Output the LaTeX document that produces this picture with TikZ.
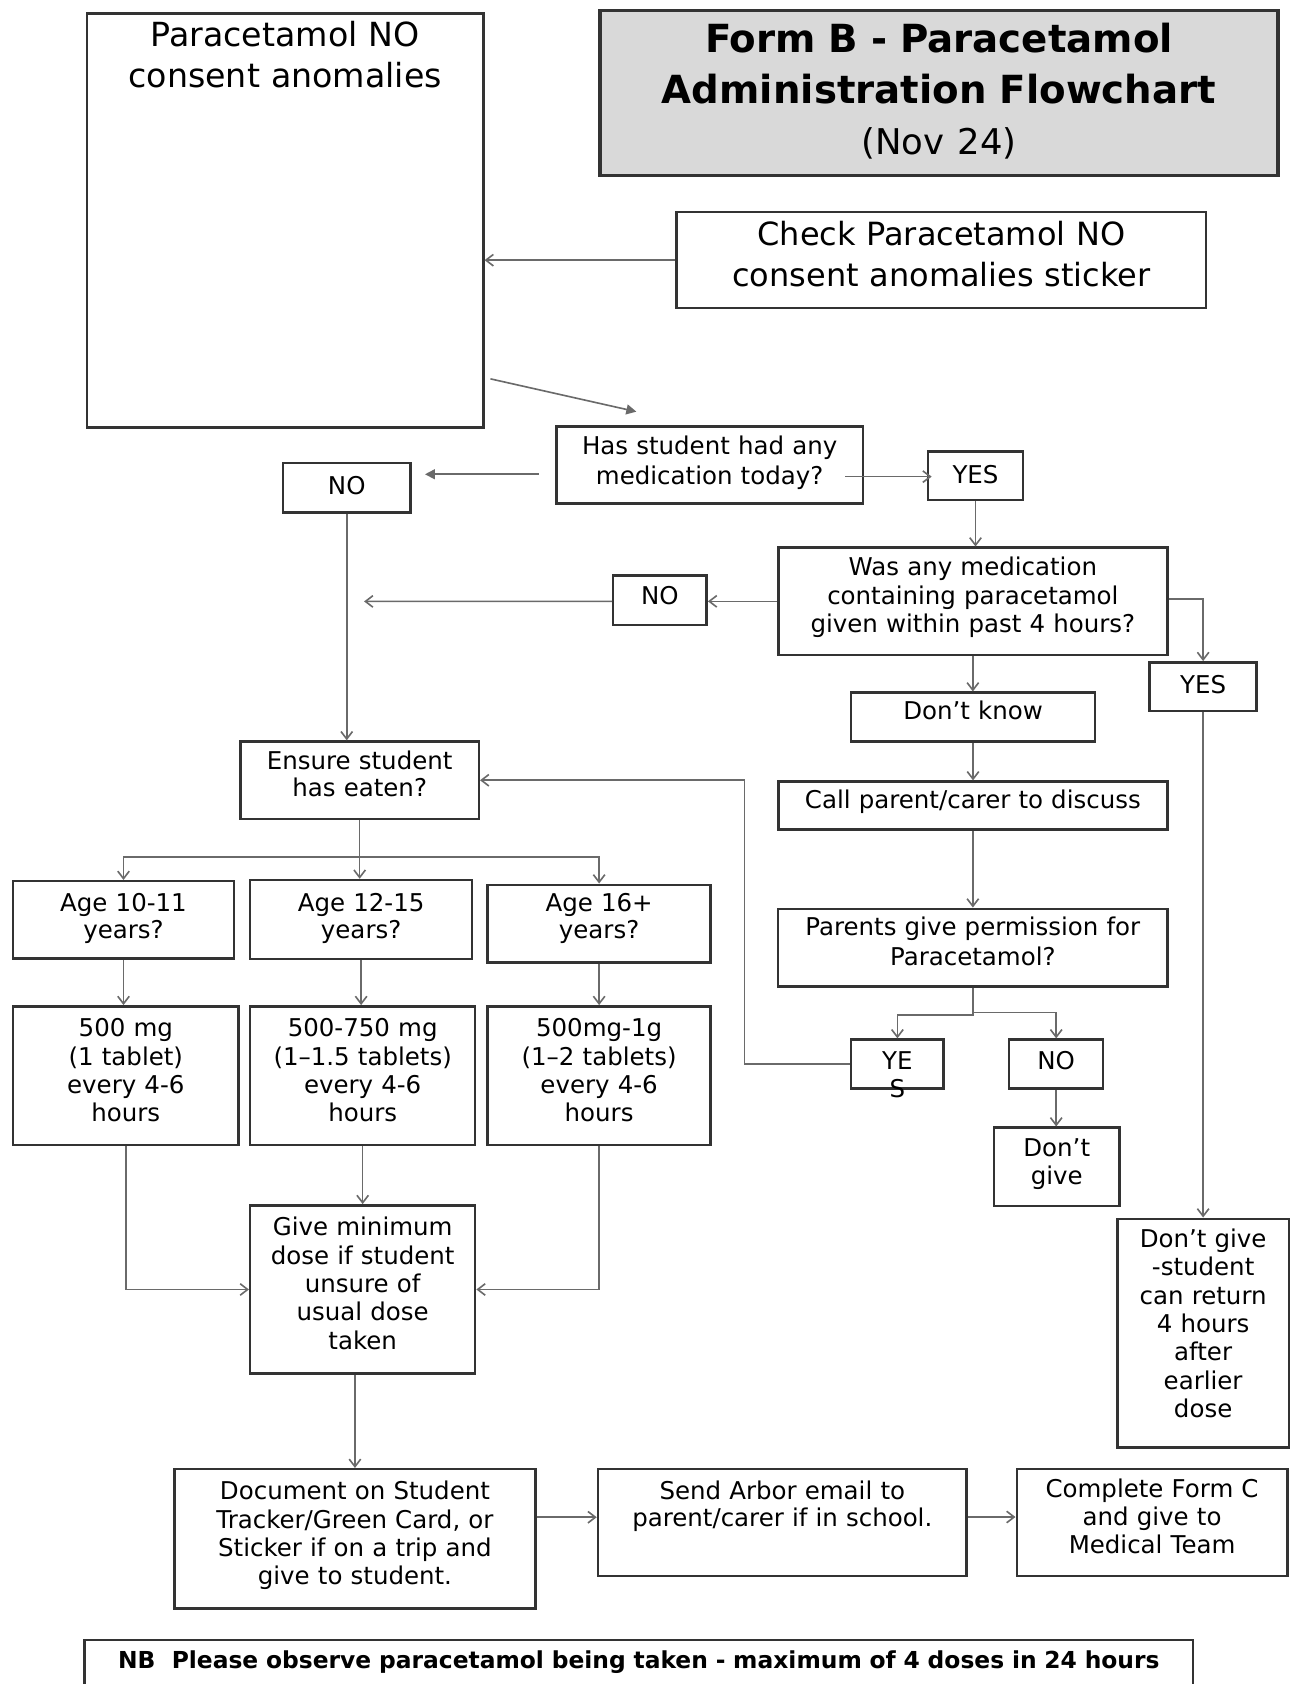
\documentclass[tikz,border=0pt]{standalone}
\usepackage{fontspec}
\setmainfont{DejaVu Sans}
\usetikzlibrary{arrows.meta}
\definecolor{bord}{HTML}{333333}
\definecolor{lin}{HTML}{6A6A6A}
\definecolor{tfill}{HTML}{D9D9D9}
\tikzset{
 box/.style={draw=bord, line width=1pt, inner sep=0pt, align=center, font=\fontsize{9.8}{11.35}\selectfont},
 conn/.style={draw=lin, line width=0.65pt},
 op/.style={conn, -{Straight Barb[length=3pt,width=4.6pt]}},
 fl/.style={conn, -{Triangle[length=4pt,width=4pt]}},
}
\newcommand\fcbox[8]{%
 \pgfmathsetmacro\bxw{(#3-#2)*0.43}%
 \pgfmathsetmacro\bxh{(#6-#4)*0.43}%
 \pgfmathsetmacro\bxd{(#5-#6)*0.43}%
 \node[box,minimum width=\bxw pt,text width=\bxw pt,text height=\bxh pt,text depth=\bxd pt,#7] (#1) at ({(#2+#3)/2},{(#4+#5)/2}) {#8};}
\begin{document}
\begin{tikzpicture}[x=0.43pt,y=-0.43pt]
\useasboundingbox (0,0) rectangle (1201,1568);
% boxes
\fcbox{bigbox}{81}{450}{12.4}{398.2}{43.5}{font=\fontsize{13.3}{16.25}\selectfont}{Paracetamol NO\\consent anomalies}
\fcbox{title}{558.6}{1190}{9.5}{163.6}{49}{fill=tfill,line width=1.3pt,font=\fontsize{15.5}{20.4}\selectfont\bfseries}{Form B - Paracetamol\\Administration Flowchart\\\fontsize{14.2}{20.4}\selectfont\mdseries (Nov 24)}
\fcbox{check}{630}{1123}{197.5}{287}{228.7}{font=\fontsize{12.8}{16.2}\selectfont}{Check Paracetamol NO\\consent anomalies sticker}
\fcbox{hasmed}{518}{803.5}{397}{469}{423.6}{font=\fontsize{9.8}{12}\selectfont}{Has student had any\\medication today?}
\fcbox{no1}{263.7}{382}{431}{477}{460}{}{NO}
\fcbox{yes1}{864}{952.6}{420.5}{465.5}{450}{}{YES}
\fcbox{wasany}{724.7}{1087}{510}{609.8}{536}{}{Was any medication\\containing paracetamol\\given within past 4 hours?}
\fcbox{no2}{571}{658}{536}{582}{563}{}{NO}
\fcbox{yes2}{1070.5}{1170}{616.7}{662}{645.5}{}{YES}
\fcbox{dontknow}{792.5}{1019.5}{645}{690.5}{670}{}{Don't know}
\fcbox{callparent}{724.7}{1087}{727.8}{772.5}{752.6}{}{Call parent/carer to discuss}
\fcbox{parents}{724.6}{1087}{846.2}{918.6}{871.2}{font=\fontsize{9.8}{11.9}\selectfont}{Parents give permission for\\Paracetamol?}
\fcbox{yes3}{792.5}{878.7}{968}{1013.7}{995.8}{}{YE\\S}
\fcbox{no3}{939.7}{1027.2}{968}{1013.7}{995.8}{}{NO}
\fcbox{dontgive}{925.6}{1042.3}{1050}{1123}{1076.7}{}{Don't\\give}
\fcbox{dontgiveb}{1040.5}{1200}{1134.8}{1348}{1161.5}{}{Don't give\\-student\\can return\\4 hours\\after\\earlier\\dose}
\fcbox{ensure}{224}{445.8}{690.5}{762.5}{716.3}{font=\fontsize{9.8}{10.75}\selectfont}{Ensure student\\has eaten?}
\fcbox{agea}{12}{218}{820.5}{892.5}{848.7}{font=\fontsize{9.8}{10.9}\selectfont}{Age 10-11\\years?}
\fcbox{ageb}{233}{439.5}{819.4}{892.8}{848.7}{font=\fontsize{9.8}{10.9}\selectfont}{Age 12-15\\years?}
\fcbox{agec}{454}{661.7}{823.8}{896.1}{848.7}{font=\fontsize{9.8}{10.9}\selectfont}{Age 16+\\years?}
\fcbox{dosea}{12}{222.3}{937}{1066}{965.5}{}{500 mg\\(1 tablet)\\every 4-6\\hours}
\fcbox{doseb}{233}{442.4}{937}{1066}{965.5}{}{500-750 mg\\(1--1.5 tablets)\\every 4-6\\hours}
\fcbox{dosec}{454}{661.7}{937}{1066}{965.5}{}{500mg-1g\\(1--2 tablets)\\every 4-6\\hours}
\fcbox{givemin}{233}{442.4}{1122.3}{1279}{1150.8}{}{Give minimum\\dose if student\\unsure of\\usual dose\\taken}
\fcbox{docu}{162.4}{498.6}{1368}{1497.7}{1396.5}{}{Document on Student\\Tracker/Green Card, or\\Sticker if on a trip and\\give to student.}
\fcbox{arbor}{556.8}{900}{1368}{1467.3}{1396.5}{font=\fontsize{9.8}{10.75}\selectfont}{Send Arbor email to\\parent/carer if in school.}
\fcbox{formc}{946.7}{1198.7}{1368}{1467.3}{1394}{}{Complete Form C\\and give to\\Medical Team}
\fcbox{nb}{78.9}{1110.7}{1527}{1595}{1553.3}{font=\fontsize{9.36}{11}\selectfont\bfseries}{NB\hspace{0.7em}Please observe paracetamol being taken - maximum of 4 doses in 24 hours}
% free ends
\coordinate (hmtip) at (592.5,383.3);
\coordinate (ntip) at (339,560);
% connectors
\draw[op] (check.west) -- (check.west -| bigbox.east);
\draw[fl] (bigbox.south east) ++(5.5,-46.6) -- (hmtip);
\draw[fl,shorten <=6.6pt,shorten >=5.4pt] (hasmed.west |- 0,441.6) -- (no1.east |- 0,441.6);
\draw[op,shorten <=-7.5pt,shorten >=-2pt] (hasmed.east |- 0,443.8) -- (yes1.west |- 0,443.8);
\draw[op] (yes1.south) -- (yes1.south |- wasany.north);
\draw[op] (wasany.west) -- (no2.east |- wasany.west);
\draw[op] (no2.west |- wasany.west) -- (ntip);
\draw[op] (no1.south) -- (no1.south |- ensure.north);
\draw[op] (wasany.east |- 0,557.7) -| (yes2.north);
\draw[op] (wasany.south) -- (wasany.south |- dontknow.north);
\draw[op] (dontknow.south) -- (dontknow.south |- callparent.north);
\draw[op] (callparent.south) -- (callparent.south |- parents.north);
\draw[op] (parents.south) -- ++(0,25.4) -| (yes3.north);
\draw[op] (parents.south) -- ++(0,23) -| (no3.north);
\draw[op] (no3.south) -- (no3.south |- dontgive.north);
\draw[op] (yes3.west) -- ++(-98,0) |- (ensure.east);
\draw[op] (yes2.south) -- (yes2.south |- dontgiveb.north);
\draw[op] (ensure.south) -- ++(0,34.5) -| (agea.north);
\draw[op] (ensure.south) -- (ensure.south |- ageb.north);
\draw[op] (ensure.south) -- ++(0,34.5) -| (agec.north);
\draw[op] (agea.south) -- (agea.south |- dosea.north);
\draw[op] (ageb.south) -- (ageb.south |- doseb.north);
\draw[op] (agec.south) -- (agec.south |- dosec.north);
\draw[op] (doseb.south) -- (doseb.south |- givemin.north);
\draw[op] (dosea.south) |- (givemin.west);
\draw[op] (dosec.south) |- (givemin.east);
\draw[op] (docu.north |- givemin.south) -- (docu.north);
\draw[op] (docu.east |- 0,1412.7) -- (arbor.west |- 0,1412.7);
\draw[op] (arbor.east |- 0,1412.5) -- (formc.west |- 0,1412.5);
\end{tikzpicture}
\end{document}
